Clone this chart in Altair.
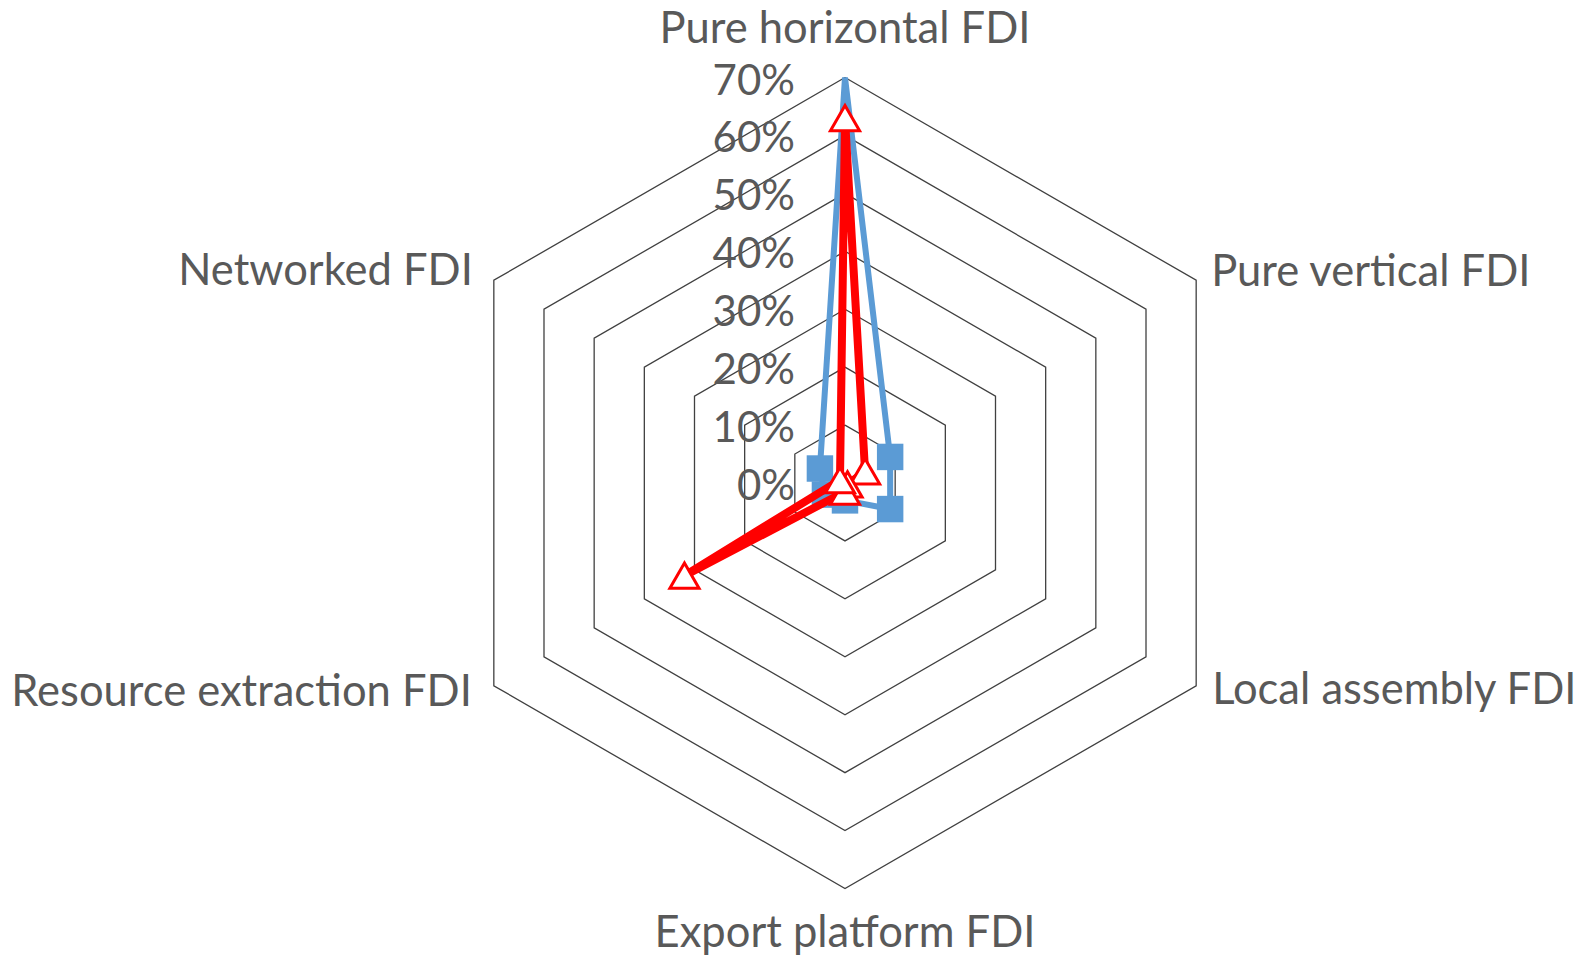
import altair as alt
import pandas as pd

categories = ["Pure horizontal FDI", "Pure vertical FDI", "Local assembly FDI",
              "Export platform FDI", "Resource extraction FDI", "Networked FDI"]
series_blue = [70, 9, 9, 3, 4, 5]
series_red = [63, 4, 0.5, 1.5, 32, 1]
ticks = [0, 10, 20, 30, 40, 50, 60, 70]
tick_labels = ["0%", "10%", "20%", "30%", "40%", "50%", "60%", "70%"]

n = len(categories)
vmax = ticks[-1]

rows = []
for name, vals in [("blue", series_blue), ("red", series_red)]:
    for i in range(n + 1):
        rows.append({"series": name, "idx": i, "cat": categories[i % n], "value": vals[i % n]})
df = pd.DataFrame(rows)

grid = pd.DataFrame([{"ring": t, "idx": i, "value": t} for t in ticks[1:] for i in range(n + 1)])
tick_df = pd.DataFrame({"value": ticks, "label": tick_labels})
cat_df = pd.DataFrame({"idx": list(range(n)), "cat": categories, "value": [vmax] * n})

W, H = 1569, 949
cx, cy = 837, 475
k = 405.5 / 70
xdom = [-cx / k, (W - cx) / k]
ydom = [-(H - cy) / k, cy / k]

def polar(ch):
    return ch.transform_calculate(
        ang="datum.idx * 2 * PI / 6",
    ).transform_calculate(
        px="datum.value * sin(datum.ang)",
        py="datum.value * cos(datum.ang)",
    )

X = alt.X("px:Q", scale=alt.Scale(domain=xdom, nice=False, zero=False), axis=None)
Y = alt.Y("py:Q", scale=alt.Scale(domain=ydom, nice=False, zero=False), axis=None)

grid_layer = polar(alt.Chart(grid)).mark_line(color="#404040", strokeWidth=1.3).encode(
    x=X, y=Y, detail="ring:N", order="idx:Q")

tick_layer = alt.Chart(tick_df).transform_calculate(px="0", py="datum.value").mark_text(
    align="right", baseline="alphabetic", dx=-50, dy=17, font="Lato", fontSize=42, color="#595959"
).encode(x=X, y=Y, text="label:N")

FONT = "Lato"
FS = 43.5
label_specs = [
    (0, "center", 0, -35),
    (1, "left", 15, 6),
    (2, "left", 16, 18),
    (3, "center", 0, 58),
    (4, "right", -22, 20),
    (5, "right", -21, 5),
]
label_layers = []
for idx, al, ddx, ddy in label_specs:
    label_layers.append(
        polar(alt.Chart(cat_df).transform_filter(f"datum.idx == {idx}")).mark_text(
            align=al, baseline="alphabetic", dx=ddx, dy=ddy, font=FONT, fontSize=FS, color="#595959"
        ).encode(x=X, y=Y, text="cat:N")
    )

blue_df = df[df.series == "blue"]
red_df = df[df.series == "red"]

blue_line = polar(alt.Chart(blue_df)).mark_line(
    color="#5B9BD5", strokeWidth=6, strokeJoin="round").encode(x=X, y=Y, order="idx:Q")
blue_pts = polar(alt.Chart(blue_df[blue_df.idx < n]).transform_filter(f"datum.value < {vmax}")).mark_square(
    color="#5B9BD5", size=700, opacity=1).encode(x=X, y=Y)
red_line = polar(alt.Chart(red_df)).mark_line(
    color="#FF0000", strokeWidth=8, strokeJoin="round").encode(x=X, y=Y, order="idx:Q")
red_pts = polar(alt.Chart(red_df[red_df.idx < n])).mark_point(
    shape="triangle-up", size=850, filled=True, fill="white", stroke="#FF0000",
    strokeWidth=3, opacity=1).encode(x=X, y=Y)

chart = alt.layer(
    grid_layer, tick_layer, *label_layers, blue_line, blue_pts, red_line, red_pts
).properties(width=W, height=H, autosize="none", padding=0).configure_view(stroke=None)

chart.save("out.html", embed_options={"renderer": "svg", "actions": False})
